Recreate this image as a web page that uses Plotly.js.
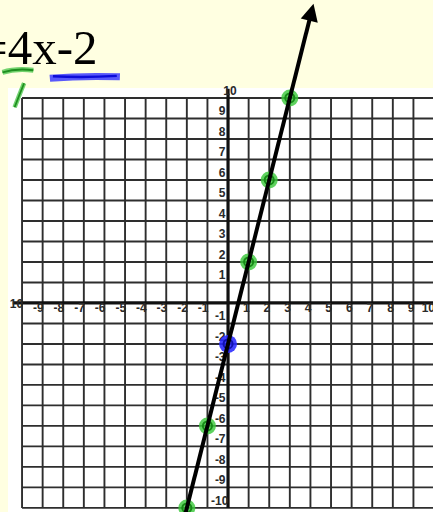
<!DOCTYPE html>
<html>
<head>
<meta charset="utf-8">
<script src="https://cdn.plot.ly/plotly-3.0.1.min.js"></script>
<style>
  html, body { margin: 0; padding: 0; background: #FFFFE1; }
  #chart { width: 433px; height: 512px; }
</style>
</head>
<body>
<div id="chart"></div>
<script>
// Graph-paper values: grid lines at every integer from -10 to 10
const gridVals = [-10, -9, -8, -7, -6, -5, -4, -3, -2, -1, 0, 1, 2, 3, 4, 5, 6, 7, 8, 9, 10];
const xTickVals = [-10, -9, -8, -7, -6, -5, -4, -3, -2, -1, 1, 2, 3, 4, 5, 6, 7, 8, 9, 10];
const xTickText = ['10', '-9', '-8', '-7', '-6', '-5', '-4', '-3', '-2', '-1', '1', '2', '3', '4', '5', '6', '7', '8', '9', '10'];
const yTickVals = [10, 9, 8, 7, 6, 5, 4, 3, 2, 1, -1, -2, -3, -4, -5, -6, -7, -8, -9, -10];
const yTickText = ['10', '9', '8', '7', '6', '5', '4', '3', '2', '1', '-1', '-2', '-3', '-4', '-5', '-6', '-7', '-8', '-9', '-10'];

// y = 4x - 2, from the bottom edge to the base of the arrowhead, then the tip
const lineX = [-2.1, 4.0];
const lineY = [-10.4, 14.0];
const tipX = 4.15;
const tipY = 14.6;

// plotted points of the table of values
const pointX = [-2, -1, 1, 2, 3];
const pointY = [-10, -6, 2, 6, 10];
// the y-intercept, marked in blue
const interceptX = [0];
const interceptY = [-2];

const GMIN = gridVals[0], GMAX = gridVals[gridVals.length - 1];

// grid segments built from gridVals
const gx = [], gy = [];
gridVals.forEach(v => {
  gx.push(v, v, null); gy.push(GMIN, GMAX, null);
  gx.push(GMIN, GMAX, null); gy.push(v, v, null);
});

// x labels end just left of their grid line, below the axis; the leftmost sits on the axis
const xLabX = xTickVals.map(v => v + 0.05);
const xLabY = xTickVals.map(v => v === GMIN ? -0.12 : -0.3);
// y labels sit just above their grid line, left of the axis
const yLabX = yTickVals.map(v => v === GMAX ? 0.42 : (v === GMIN ? 0.02 : -0.12));
const yLabY = yTickVals.map(v => v + 0.3);

const labelFont = { family: 'Liberation Sans, Arial, sans-serif', size: 12, color: '#2a2a2a', weight: 'bold' };

const traces = [
  { x: gx, y: gy, mode: 'lines', line: { color: '#2e2e2e', width: 1.9 }, hoverinfo: 'skip' },
  { x: [GMIN - 0.45, GMAX], y: [0, 0], mode: 'lines', line: { color: '#111', width: 3.2 }, hoverinfo: 'skip' },
  { x: [0, 0], y: [GMIN, GMAX + 0.45], mode: 'lines', line: { color: '#111', width: 3.2 }, hoverinfo: 'skip' },
  { x: xLabX, y: xLabY, text: xTickText, mode: 'text', textposition: 'middle left',
    textfont: labelFont, hoverinfo: 'skip' },
  { x: yLabX, y: yLabY, text: yTickText, mode: 'text', textposition: 'middle left',
    textfont: labelFont, hoverinfo: 'skip' },
  // green marker blobs
  { x: pointX, y: pointY, mode: 'markers',
    marker: { symbol: 'circle', size: 17, color: 'rgba(60,200,60,0.82)', line: { width: 0 } }, hoverinfo: 'skip' },
  { x: pointX, y: pointY, mode: 'markers',
    marker: { symbol: 'circle-open', size: 9, color: '#168a16', line: { width: 2, color: '#168a16' } }, hoverinfo: 'skip' },
  // blue intercept blob
  { x: interceptX, y: interceptY, mode: 'markers',
    marker: { symbol: 'circle', size: 18, color: 'rgba(40,40,255,0.88)', line: { width: 0 } }, hoverinfo: 'skip' },
  { x: interceptX, y: interceptY, mode: 'markers',
    marker: { symbol: 'circle-open', size: 9, color: '#1010b0', line: { width: 2, color: '#1010b0' } }, hoverinfo: 'skip' },
  // the line itself
  { x: lineX, y: lineY, mode: 'lines', line: { color: '#000', width: 4 }, hoverinfo: 'skip' }
];

// pen strokes under the equation
function stroke(path, color, width) {
  return { type: 'path', xref: 'x', yref: 'y', path: path, line: { color: color, width: width }, layer: 'above' };
}

const layout = {
  width: 433, height: 512,
  margin: { l: 0, r: 0, t: 0, b: 0, pad: 0 },
  paper_bgcolor: '#FFFFE1', plot_bgcolor: '#FFFFE1',
  showlegend: false,
  xaxis: { range: [-11.07, 9.95], visible: false, fixedrange: true },
  yaxis: { range: [-10.2, 14.78], visible: false, fixedrange: true },
  shapes: [
    { type: 'rect', xref: 'x', yref: 'y', x0: -10.68, x1: 11, y0: -11, y1: 10.49,
      fillcolor: '#ffffff', line: { width: 0 }, layer: 'below' },
    stroke('M -10.95 11.25 Q -10.3 11.45 -9.45 11.35', 'rgba(80,200,80,0.8)', 5),
    stroke('M -10.95 11.25 Q -10.3 11.45 -9.45 11.35', '#1f8f1f', 2),
    stroke('M -10.36 9.55 Q -10.15 10.1 -9.9 10.72', 'rgba(80,200,80,0.8)', 4.5),
    stroke('M -10.36 9.55 Q -10.15 10.1 -9.9 10.72', '#1f8f1f', 1.8),
    stroke('M -8.65 10.96 Q -7 11.1 -5.25 11.03', 'rgba(60,60,255,0.85)', 7),
    stroke('M -8.5 11.06 Q -7 10.98 -5.4 11.08', '#0c0cd8', 2.4)
  ],
  annotations: [
    { xref: 'paper', yref: 'paper', x: -22 / 433, y: 1 - 47 / 512, xanchor: 'left', yanchor: 'middle',
      text: '=4x-2', showarrow: false,
      font: { family: 'Liberation Serif, Times New Roman, serif', size: 49, color: '#000' } },
    // arrowhead at the end of the line
    { xref: 'x', yref: 'y', axref: 'x', ayref: 'y', x: tipX, y: tipY,
      ax: lineX[1] - 0.05, ay: lineY[1] - 0.2, text: '', showarrow: true,
      arrowhead: 2, arrowsize: 1, arrowwidth: 3.5, arrowcolor: '#000', standoff: 0, startstandoff: 0 }
  ]
};

Plotly.newPlot('chart', traces, layout, { staticPlot: true, displayModeBar: false });
</script>
</body>
</html>
